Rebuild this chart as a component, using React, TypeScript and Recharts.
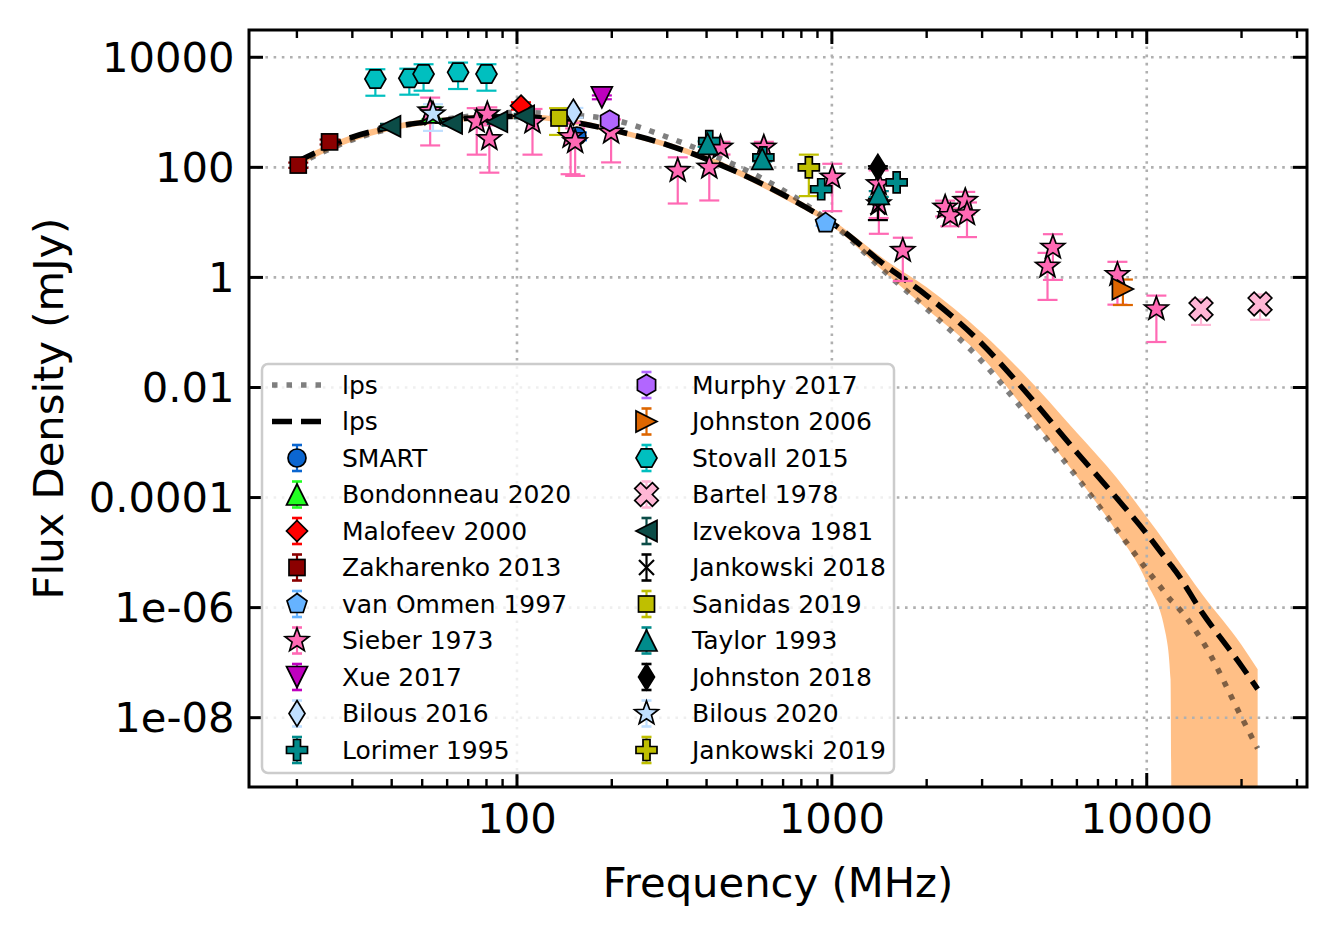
import React from "react"
import {
  Area,
  ComposedChart,
  ErrorBar,
  Line,
  ReferenceLine,
  Scatter,
  XAxis,
  YAxis,
} from "recharts"

type Pt = [number, number, number] // frequency (MHz), flux (mJy), error (mJy)
type Kind = "o" | "^" | "v" | "<" | ">" | "D" | "d" | "s" | "p" | "h" | "H" | "*" | "P" | "X" | "x"

const FONT = '"DejaVu Sans", "Liberation Sans", sans-serif'
const PLOT = { left: 249, right: 1307, top: 30, bottom: 787 }

// axes
const xDomain: [number, number] = [14.09, 32280]
const yDomain: [number, number] = [5.5e-10, 31300]
const xMajorTicks = [100, 1000, 10000]
const xTickLabels = ["100", "1000", "10000"]
const xMinorTicks = [20, 30, 40, 50, 60, 70, 80, 90, 200, 300, 400, 500, 600, 700, 800, 900, 2000, 3000, 4000, 5000, 6000, 7000, 8000, 9000, 20000, 30000]
const yTicks = [1e-8, 1e-6, 1e-4, 0.01, 1, 100, 10000]
const yTickLabels = ["1e-08", "1e-06", "0.0001", "0.01", "1", "100", "10000"]

// fitted spectra (lps)
const modelFreq = [20, 30, 40, 60, 80, 100, 150, 200, 300, 400, 600, 800, 1000, 1500, 2000, 3000, 4000, 6000, 8000, 10000, 11500, 11900, 12100, 15000, 20000, 22500]
const lpsDashed = [126, 355, 537, 724, 813, 841, 661, 479, 257, 141, 50.1, 20.9, 9.77, 1.55, 0.468, 0.0617, 0.0102, 6.6e-4, 1.0e-4, 2.19e-5, 7.76e-6, 6.03e-6, 5.37e-6, 8.1e-7, 8.7e-8, 3.3e-8]
const lpsDotted = [112, 316, 513, 759, 912, 1000, 891, 741, 355, 186, 63.1, 24, 9.55, 1.15, 0.269, 0.0295, 0.00427, 2.34e-4, 2.69e-5, 4.9e-6, 1.78e-6, 1.38e-6, 1.26e-6, 2.5e-7, 1.02e-8, 2.75e-9]
const bandLow = [105, 295, 468, 646, 724, 759, 603, 427, 229, 126, 43.7, 18.2, 8.5, 1.12, 0.27, 0.0355, 0.0048, 2.4e-4, 2.45e-5, 2.9e-6, 3.2e-7, 5e-8, 1e-15, 1e-15, 1e-15, 1e-15]
const bandHigh = [138, 389, 603, 813, 912, 933, 759, 537, 288, 162, 57.5, 24, 11.2, 1.95, 0.66, 0.098, 0.0195, 1.5e-3, 2.34e-4, 4.4e-5, 1.48e-5, 1.12e-5, 9.8e-6, 1.74e-6, 2.1e-7, 7.6e-8]

// measurements
const smart: Pt[] = [[155, 370, 60]]
const bondonneau: Pt[] = [[53.5, 1000, 250]]
const malofeev: Pt[] = [[103, 1320, 200]]
const zakharenko: Pt[] = [[20.2, 110, 12], [25.4, 290, 30]]
const vanOmmen: Pt[] = [[955, 9.7, 1]]
const sieber: Pt[] = [
  [53, 1050, 800], [74.5, 680, 510], [80.5, 930, 300], [81.7, 330, 250], [112, 660, 490],
  [148, 360, 285], [153, 290, 220], [199, 433, 310], [324, 87, 65], [408, 100, 75],
  [443, 231, 60], [608, 231, 60], [1003, 66, 50], [1408, 50, 38], [1410, 21.6, 15.4],
  [1680, 3.06, 2.2], [2290, 18.8, 6], [2377, 13.2, 4.7], [2652, 24.8, 11], [2686, 14.2, 8.8],
  [4840, 1.59, 1.2], [5035, 3.5, 2.6], [8070, 1.12, 0.8], [10730, 0.267, 0.2],
]
const xue: Pt[] = [[186, 1875, 150]]
const bilous2016: Pt[] = [[151, 1000, 200]]
const lorimer: Pt[] = [[408, 300, 30], [606, 152, 15], [925, 40, 4], [1606, 53.5, 5]]
const murphy: Pt[] = [[197, 700, 150]]
const johnston2006: Pt[] = [[8400, 0.615, 0.3]]
const stovall: Pt[] = [[35.5, 4030, 2030], [45.5, 4150, 2060], [50.5, 4970, 2500], [65, 5330, 2680], [80, 4970, 2500]]
const bartel: Pt[] = [[14870, 0.267, 0.13], [22900, 0.33, 0.16]]
const izvekova: Pt[] = [[39.5, 557, 60], [62, 632, 60], [86.3, 675, 60], [105, 857, 80]]
const jankowski2018: Pt[] = [[1400, 19, 8]]
const sanidas: Pt[] = [[136, 788, 400]]
const taylor: Pt[] = [[403, 266, 30], [601, 142, 14], [1409, 33, 4]]
const johnston2018: Pt[] = [[1400, 100, 5]]
const bilous2020: Pt[] = [[54.1, 930, 470]]
const jankowski2019: Pt[] = [[845, 100, 70]]

const SERIES: { name: string; kind: Kind; color: string; pts: Pt[] }[] = [
  { name: "SMART", kind: "o", color: "#0b66d0", pts: smart },
  { name: "Bondonneau 2020", kind: "^", color: "#22ff22", pts: bondonneau },
  { name: "Malofeev 2000", kind: "D", color: "#ff0000", pts: malofeev },
  { name: "Zakharenko 2013", kind: "s", color: "#8b0000", pts: zakharenko },
  { name: "van Ommen 1997", kind: "p", color: "#66b3ff", pts: vanOmmen },
  { name: "Sieber 1973", kind: "*", color: "#ff69b4", pts: sieber },
  { name: "Xue 2017", kind: "v", color: "#bf00bf", pts: xue },
  { name: "Bilous 2016", kind: "d", color: "#bfdfff", pts: bilous2016 },
  { name: "Lorimer 1995", kind: "P", color: "#008b8b", pts: lorimer },
  { name: "Murphy 2017", kind: "h", color: "#b266ff", pts: murphy },
  { name: "Johnston 2006", kind: ">", color: "#dd6600", pts: johnston2006 },
  { name: "Stovall 2015", kind: "H", color: "#00bfbf", pts: stovall },
  { name: "Bartel 1978", kind: "X", color: "#ffb6d5", pts: bartel },
  { name: "Izvekova 1981", kind: "<", color: "#0b4c47", pts: izvekova },
  { name: "Jankowski 2018", kind: "x", color: "#000000", pts: jankowski2018 },
  { name: "Sanidas 2019", kind: "s", color: "#bfbf00", pts: sanidas },
  { name: "Taylor 1993", kind: "^", color: "#008b8b", pts: taylor },
  { name: "Johnston 2018", kind: "d", color: "#000000", pts: johnston2018 },
  { name: "Bilous 2020", kind: "*", color: "#bfdfff", pts: bilous2020 },
  { name: "Jankowski 2019", kind: "P", color: "#bfbf00", pts: jankowski2019 },
]

const modelRows = modelFreq.map((f, i) => ({
  f,
  dashed: lpsDashed[i],
  dotted: lpsDotted[i],
  band: [bandLow[i], bandHigh[i]],
}))

const xTicksAll = [...xMajorTicks, ...xMinorTicks].sort((a, b) => a - b)

const pts = (cx: number, cy: number, p: number[][]) => p.map(([dx, dy]) => `${cx + dx},${cy + dy}`).join(" ")

const ngon = (n: number, r: number, start: number) =>
  Array.from({ length: n }, (_, k) => {
    const a = ((start + (360 / n) * k) * Math.PI) / 180
    return [r * Math.cos(a), r * Math.sin(a)]
  })

const starPts = (R: number, r: number) =>
  Array.from({ length: 10 }, (_, k) => {
    const a = ((-90 + 36 * k) * Math.PI) / 180
    const rr = k % 2 === 0 ? R : r
    return [rr * Math.cos(a), rr * Math.sin(a)]
  })

const plusPts = (h: number) => {
  const a = h / 3
  return [[-a, -h], [a, -h], [a, -a], [h, -a], [h, a], [a, a], [a, h], [-a, h], [-a, a], [-h, a], [-h, -a], [-a, -a]]
}

function Marker({ kind, cx, cy, fill }: { kind: Kind; cx: number; cy: number; fill: string }) {
  const edge = { stroke: "#000", strokeWidth: 1.7, strokeLinejoin: "miter" as const }
  switch (kind) {
    case "o":
      return <circle cx={cx} cy={cy} r={9} fill={fill} {...edge} />
    case "s":
      return <rect x={cx - 8} y={cy - 8} width={16} height={16} fill={fill} {...edge} />
    case "^":
      return <polygon points={pts(cx, cy, [[0, -10.5], [-10.5, 10.5], [10.5, 10.5]])} fill={fill} {...edge} />
    case "v":
      return <polygon points={pts(cx, cy, [[0, 10.5], [-10.5, -10.5], [10.5, -10.5]])} fill={fill} {...edge} />
    case "<":
      return <polygon points={pts(cx, cy, [[-10.5, 0], [10.5, -10.5], [10.5, 10.5]])} fill={fill} {...edge} />
    case ">":
      return <polygon points={pts(cx, cy, [[10.5, 0], [-10.5, -10.5], [-10.5, 10.5]])} fill={fill} {...edge} />
    case "D":
      return <polygon points={pts(cx, cy, [[0, -10.5], [10.5, 0], [0, 10.5], [-10.5, 0]])} fill={fill} {...edge} />
    case "d":
      return <polygon points={pts(cx, cy, [[0, -13], [8, 0], [0, 13], [-8, 0]])} fill={fill} {...edge} />
    case "p":
      return <polygon points={pts(cx, cy, ngon(5, 10.5, -90))} fill={fill} {...edge} />
    case "h":
      return <polygon points={pts(cx, cy, ngon(6, 10.5, -90))} fill={fill} {...edge} />
    case "H":
      return <polygon points={pts(cx, cy, ngon(6, 10.5, 0))} fill={fill} {...edge} />
    case "*":
      return <polygon points={pts(cx, cy, starPts(12.5, 5.2))} fill={fill} {...edge} />
    case "P":
      return <polygon points={pts(cx, cy, plusPts(10.5))} fill={fill} {...edge} />
    case "X":
      return (
        <polygon
          points={pts(cx, cy, plusPts(12.5))}
          transform={`rotate(45 ${cx} ${cy})`}
          fill={fill}
          {...edge}
        />
      )
    case "x":
      return (
        <g stroke={fill} strokeWidth={2.2}>
          <line x1={cx - 7.5} y1={cy - 7.5} x2={cx + 7.5} y2={cy + 7.5} />
          <line x1={cx - 7.5} y1={cy + 7.5} x2={cx + 7.5} y2={cy - 7.5} />
        </g>
      )
  }
  return null
}

function XTick(props: any) {
  const v = props.payload?.value
  const x = props.payload?.coordinate ?? props.x
  const major = xMajorTicks.indexOf(v)
  const len = major >= 0 ? 14 : 8
  const sw = major >= 0 ? 3 : 2.4
  return (
    <g>
      <line x1={x} x2={x} y1={PLOT.bottom} y2={PLOT.bottom - len} stroke="#000" strokeWidth={sw} />
      <line x1={x} x2={x} y1={PLOT.top} y2={PLOT.top + len} stroke="#000" strokeWidth={sw} />
      {major >= 0 && (
        <text x={x} y={833} textAnchor="middle" fontSize={41.7} fontFamily={FONT} fill="#000">
          {xTickLabels[major]}
        </text>
      )}
    </g>
  )
}

function YTick(props: any) {
  const y = props.payload?.coordinate ?? props.y
  const i = yTicks.indexOf(props.payload?.value)
  return (
    <g>
      <line x1={PLOT.left} x2={PLOT.left + 14} y1={y} y2={y} stroke="#000" strokeWidth={3} />
      <line x1={PLOT.right - 14} x2={PLOT.right} y1={y} y2={y} stroke="#000" strokeWidth={3} />
      <text x={234.5} y={y} textAnchor="end" dominantBaseline="central" fontSize={41.7} fontFamily={FONT} fill="#000">
        {i >= 0 ? yTickLabels[i] : ""}
      </text>
    </g>
  )
}

function LegendBox() {
  const rowY = (i: number) => 385 + i * 36.5
  const col1 = SERIES.slice(0, 9)
  const col2 = SERIES.slice(9)
  const entry = (s: (typeof SERIES)[number], hx: number, tx: number, y: number) => (
    <g key={s.name}>
      <g stroke={s.color} strokeWidth={2.2}>
        <line x1={hx} x2={hx} y1={y - 13} y2={y + 13} />
        <line x1={hx - 5} x2={hx + 5} y1={y - 13} y2={y - 13} strokeWidth={2.6} />
        <line x1={hx - 5} x2={hx + 5} y1={y + 13} y2={y + 13} strokeWidth={2.6} />
      </g>
      <Marker kind={s.kind} cx={hx} cy={y} fill={s.color} />
      <text x={tx} y={y} dominantBaseline="central" fontSize={25} fontFamily={FONT} fill="#000">
        {s.name}
      </text>
    </g>
  )
  return (
    <g>
      <rect x={262} y={364} width={632} height={409} rx={6} fill="#fff" fillOpacity={0.8} stroke="#cccccc" strokeWidth={2.5} />
      <line x1={272} x2={321} y1={rowY(0)} y2={rowY(0)} stroke="#000" strokeOpacity={0.5} strokeWidth={5.5} strokeDasharray="5.5 9" />
      <text x={342} y={rowY(0)} dominantBaseline="central" fontSize={25} fontFamily={FONT}>lps</text>
      <line x1={272} x2={321} y1={rowY(1)} y2={rowY(1)} stroke="#000" strokeWidth={5.5} strokeDasharray="20 9" />
      <text x={342} y={rowY(1)} dominantBaseline="central" fontSize={25} fontFamily={FONT}>lps</text>
      {col1.map((s, i) => entry(s, 297, 342, rowY(i + 2)))}
      {col2.map((s, i) => entry(s, 646.5, 692, rowY(i)))}
    </g>
  )
}

export default function App() {
  return (
    <div style={{ position: "absolute", left: 0, top: 0, width: 1337, height: 931, background: "#fff" }}>
      <ComposedChart
        width={1337}
        height={931}
        data={modelRows}
        margin={{ top: 30, right: 30, bottom: 44, left: 49 }}
      >
        <XAxis
          dataKey="f"
          type="number"
          scale="log"
          domain={xDomain}
          allowDataOverflow
          ticks={xTicksAll}
          interval={0}
          tick={(p: any) => <XTick {...p} />}
          tickLine={false}
          axisLine={false}
          tickSize={0}
          tickMargin={0}
          height={100}
        />
        <YAxis
          type="number"
          scale="log"
          domain={yDomain}
          allowDataOverflow
          ticks={yTicks}
          interval={0}
          tick={(p: any) => <YTick {...p} />}
          tickLine={false}
          axisLine={false}
          tickSize={0}
          tickMargin={0}
          width={200}
        />

        {/* dotted grid at the major ticks */}
        {xMajorTicks.map((v) => (
          <ReferenceLine key={`gx${v}`} x={v} stroke="#b0b0b0" strokeWidth={2.6} strokeDasharray="2.6 5.6" />
        ))}
        {yTicks.map((v) => (
          <ReferenceLine key={`gy${v}`} y={v} stroke="#b0b0b0" strokeWidth={2.6} strokeDasharray="2.6 5.6" />
        ))}

        <Area
          dataKey="band"
          type="monotone"
          fill="#ff7f0e"
          fillOpacity={0.5}
          stroke="none"
          isAnimationActive={false}
        />
        <Line
          dataKey="dashed"
          type="monotone"
          stroke="#000"
          strokeWidth={5.5}
          strokeDasharray="20 9"
          dot={false}
          isAnimationActive={false}
        />
        <Line
          dataKey="dotted"
          type="monotone"
          stroke="#000"
          strokeOpacity={0.5}
          strokeWidth={5.5}
          strokeDasharray="5.5 9"
          dot={false}
          isAnimationActive={false}
        />

        {SERIES.map((s) => (
          <Scatter
            key={s.name}
            name={s.name}
            data={s.pts.map(([f, v, e]) => ({ f, v, e }))}
            dataKey="v"
            isAnimationActive={false}
            shape={(p: any) => <Marker kind={s.kind} cx={p.cx} cy={p.cy} fill={s.color} />}
          >
            <ErrorBar dataKey="e" direction="y" width={10} stroke={s.color} strokeWidth={2.2} />
          </Scatter>
        ))}
      </ComposedChart>

      <svg width={1337} height={931} style={{ position: "absolute", left: 0, top: 0, pointerEvents: "none" }}>
        <rect x={PLOT.left} y={PLOT.top} width={PLOT.right - PLOT.left} height={PLOT.bottom - PLOT.top} fill="none" stroke="#000" strokeWidth={3} />
        <text x={778} y={897} textAnchor="middle" fontSize={41.7} fontFamily={FONT} fill="#000">
          Frequency (MHz)
        </text>
        <text
          x={48}
          y={408.5}
          transform="rotate(-90 48 408.5)"
          textAnchor="middle"
          dominantBaseline="central"
          fontSize={41.7}
          fontFamily={FONT}
          fill="#000"
        >
          Flux Density (mJy)
        </text>
        <LegendBox />
      </svg>
    </div>
  )
}
